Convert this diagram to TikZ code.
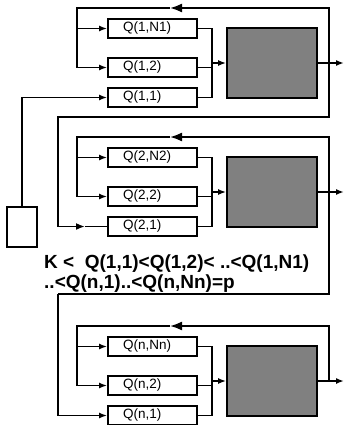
\documentclass[tikz,border=0pt]{standalone}
\usepackage{fontspec}
\setmainfont{Liberation Sans}
\usepackage{xcolor}
\usepackage{tikz}
\usetikzlibrary{arrows.meta,positioning}
\definecolor{procgray}{RGB}{128,128,128}

\begin{document}
\begin{tikzpicture}[
  x=1pt,y=-1pt,
  qbox/.style={rectangle,draw,line width=1.8pt,minimum height=19pt,inner xsep=15pt,inner ysep=0pt,text width=59pt,align=left,font=\fontsize{13.5}{15}\selectfont},
  proc/.style={rectangle,draw,line width=1.8pt,fill=procgray,minimum width=90pt,minimum height=70pt},
  src/.style={rectangle,draw,line width=1.4pt,minimum width=30pt,minimum height=40pt},
  wire/.style={line width=1.8pt},
  fbline/.style={line width=1.2pt},
  arrow/.style={wire,-{Latex[length=8pt,width=6pt]}},
  bigarrow/.style={wire,-{Latex[length=12pt,width=9pt]}},
  cond/.style={anchor=base west,inner sep=0pt,font=\fontsize{19}{23}\selectfont\bfseries}
]
\useasboundingbox (0,0) rectangle (344,425);
\foreach \k/\T/\nn in {1/8/N1,2/137/N2,n/326/Nn}{
  \node[qbox] (qN-\k) at (152.5,\T+20.5) {Q(\k,\nn)};
  \node[qbox] (q2-\k) at (152.5,\T+59.5) {Q(\k,2)};
  \node[qbox] (q1-\k) at (152.5,\T+89.5) {Q(\k,1)};
  \node[proc] (p-\k) at (272,\T+55) {};
  \coordinate (m-\k) at (212,\T+55);
  \coordinate (o-\k) at (344,\T+55);
  \coordinate (f-\k) at (329,\T+55);
  \coordinate (tr-\k) at (329,\T);
  \coordinate (tm-\k) at (207,\T);
  \coordinate (ta-\k) at (170,\T);
  \coordinate (tl-\k) at (77,\T);
  % queues merge into the server
  \draw[wire] (qN-\k.east) -| (m-\k);
  \draw[wire] (q2-\k.east) -| (m-\k);
  \draw[wire] (q1-\k.east) -| (m-\k);
  \draw[arrow] (m-\k) -- (p-\k);
  \draw[arrow] (p-\k) -- (o-\k);
  % feedback loop
  \draw[fbline] (f-\k) -- (tr-\k) -- (tm-\k);
  \draw[bigarrow] (tm-\k) -- (ta-\k);
  \draw[arrow] (ta-\k) -- (tl-\k) |- (q2-\k.west);
  \draw[arrow] (tl-\k |- qN-\k.west) -- (qN-\k.west);
}
% source and links between stages
\node[src] (src) at (22,227) {};
\draw[arrow] (src.north) |- (q1-1.west);
\coordinate (l1w) at (58,117);
\coordinate (l1a) at (85,226.5);
\draw[fbline] (tr-1) |- (l1w) -- (l1w |- l1a);
\draw[wire,-{Latex[length=9pt,width=7pt]}] (l1w |- l1a) -- (l1a);
\draw[wire] (l1a) -- (q1-2.west);
\coordinate (l2w) at (58,294);
\draw[fbline] (tr-2) |- (l2w);
\draw[arrow] (l2w) |- (q1-n.west);
\node[cond] (c1) at (44,268) {K <\ \ Q(1,1)<Q(1,2)< ..<Q(1,N1)};
\node[cond] (c2) at ([yshift=-20pt]c1.base west) {..<Q(n,1)..<Q(n,Nn)=p};
\end{tikzpicture}
\end{document}
